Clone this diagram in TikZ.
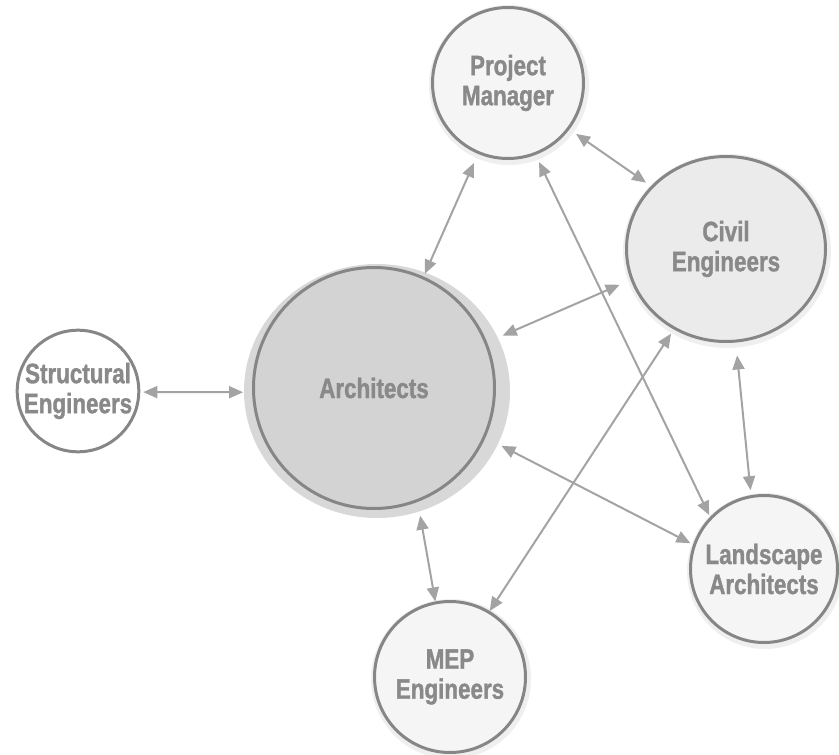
\documentclass[tikz,border=0pt]{standalone}
\usepackage{fontspec}
\setmainfont{Liberation Sans}[FakeStretch=0.8, BoldFont=Liberation Sans Bold, BoldFeatures={FakeStretch=0.8, FakeBold=1.2}]
\usepackage{tikz}
\usetikzlibrary{arrows.meta, calc, backgrounds, shapes.geometric}

\definecolor{ringgray}{HTML}{868686}
\definecolor{labelgray}{HTML}{898989}
\definecolor{linkgray}{HTML}{A3A3A3}
\definecolor{archfill}{HTML}{D3D3D3}
\definecolor{archshade}{HTML}{D8D8D8}
\definecolor{civfill}{HTML}{EBEBEB}
\definecolor{softfill}{HTML}{F5F5F5}
\definecolor{halogray}{HTML}{EFEFEF}

\begin{document}
\begin{tikzpicture}[x=1pt, y=-1pt,
    role/.style={circle, draw=ringgray, line width=3pt, align=center,
        text=labelgray, font=\fontsize{28}{30}\selectfont\bfseries, inner sep=0pt},
    link/.style={draw=linkgray, line width=2pt,
        {Triangle[length=14pt,width=12pt]}-{Triangle[length=14pt,width=12pt]}}]
    \useasboundingbox (0,0) rectangle (839,755);
    % the six parties
    \node[role, fill=archfill, minimum size=241pt] (arch) at (374,388) {Architects};
    \node[role, fill=softfill, minimum size=151pt] (pm) at (508,83) {Project\\Manager};
    \node[role, ellipse, fill=civfill, minimum width=199pt, minimum height=185pt] (civ) at (726,249) {Civil\\Engineers};
    \node[role, fill=white, minimum size=121pt] (str) at (78,391) {Structural\\Engineers};
    \node[role, fill=softfill, minimum size=147pt] (land) at (764,569) {Landscape\\Architects};
    \node[role, fill=softfill, minimum size=151pt] (mep) at (450,677) {MEP\\Engineers};
    % soft shadows behind the rings
    \begin{scope}[on background layer]
        \fill[archshade] (377,391) ellipse (133 and 127);
        \foreach \n/\r in {pm/80, land/78, mep/80} {
            \fill[halogray] ($(\n)+(1,2)$) circle (\r);
        }
        \fill[halogray] ($(civ)+(1,2)$) ellipse (104 and 97);
    \end{scope}
    % two-way links
    \foreach \from/\fa/\fs/\to/\ta/\ts in {
        arch/66.9/3/pm/247.2/10,
        arch/22.9/17/civ/198.8/12,
        arch/-24.4/18/land/161.6/3,
        arch/-69.4/14/mep/101.3/0,
        str/-1.8/3/arch/182.2/9,
        pm/-37.8/8/civ/140.8/6,
        pm/-69.4/8/land/136.6/2,
        civ/-84.2/13/land/100/5,
        civ/237.9/5/mep/59.7/0} {
        \draw[link, shorten <=\fs pt, shorten >=\ts pt] (\from.\fa) -- (\to.\ta);
    }
\end{tikzpicture}
\end{document}
